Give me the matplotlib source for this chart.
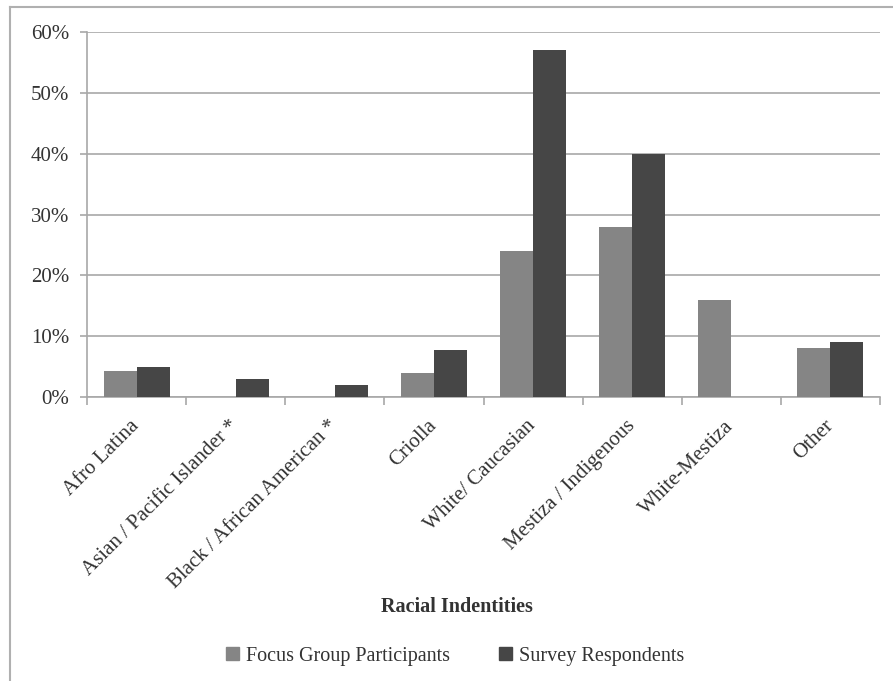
import matplotlib
matplotlib.use("Agg")
import matplotlib.pyplot as plt
from matplotlib.lines import Line2D
import numpy as np

categories = ["Afro Latina", "Asian / Pacific Islander *", "Black / African American *",
              "Criolla", "White/ Caucasian", "Mestiza / Indigenous", "White-Mestiza", "Other"]
focus_group = [4.2, 0, 0, 4.0, 24.0, 28.0, 16.0, 8.0]
survey = [5.0, 3.0, 2.0, 7.8, 57.0, 40.0, 0, 9.0]
series_names = ["Focus Group Participants", "Survey Respondents"]
yticks = [0, 10, 20, 30, 40, 50, 60]

plt.rcParams['font.family'] = ['Liberation Serif', 'DejaVu Serif']

W, H = 893, 681
fig = plt.figure(figsize=(W / 100, H / 100), dpi=100)
ax = fig.add_axes([87 / W, 1 - 397 / H, (880 - 87) / W, (397 - 32) / H])

x = np.arange(len(categories))
bw = 0.333
c_focus = "#858585"
c_survey = "#464646"
ax.bar(x - bw / 2, focus_group, bw, color=c_focus, zorder=3)
ax.bar(x + bw / 2, survey, bw, color=c_survey, zorder=3)

ax.set_xlim(-0.5, len(categories) - 0.5)
ax.set_ylim(0, 60)
ax.set_yticks(yticks)
ax.set_yticklabels([f"{v}%" for v in yticks], fontsize=15, color="#333333")
ax.yaxis.grid(True, color="#a8a8a8", linewidth=1.2, zorder=0)
ax.tick_params(axis='y', length=5, color="#a8a8a8", width=1.2, pad=8)

ax.set_xticks(x)
ax.set_xticklabels(categories, rotation=45, ha='right', va='center', rotation_mode='anchor',
                   fontsize=15, color="#333333")
ax.tick_params(axis='x', length=0, pad=19)
ax.set_xticks(np.arange(len(categories) + 1) - 0.5, minor=True)
ax.tick_params(axis='x', which='minor', length=6, color="#a8a8a8", width=1.2)

for s in ["top", "right"]:
    ax.spines[s].set_visible(False)
for s in ["left", "bottom"]:
    ax.spines[s].set_color("#a8a8a8")
    ax.spines[s].set_linewidth(1.2)

fig.text(457 / W, 1 - 607 / H, "Racial Indentities", ha='center', va='center',
         fontsize=14.5, fontweight='bold', color="#333333")

handles = [plt.Rectangle((0, 0), 1, 1, color=c_focus),
           plt.Rectangle((0, 0), 1, 1, color=c_survey)]
fig.legend(handles, series_names, loc='center', bbox_to_anchor=(455 / W, 1 - 656 / H),
           ncol=2, frameon=False, fontsize=14.5, handlelength=0.65, handleheight=0.65,
           handletextpad=0.35, columnspacing=2.4, labelcolor="#333333")

# outer border
fig.add_artist(Line2D([10 / W, 1], [1 - 7 / H, 1 - 7 / H], color="#b0b0b0", linewidth=1.5,
                      transform=fig.transFigure))
fig.add_artist(Line2D([10 / W, 10 / W], [0, 1 - 7 / H], color="#b0b0b0", linewidth=1.5,
                      transform=fig.transFigure))

fig.savefig("out.png", dpi=100)
